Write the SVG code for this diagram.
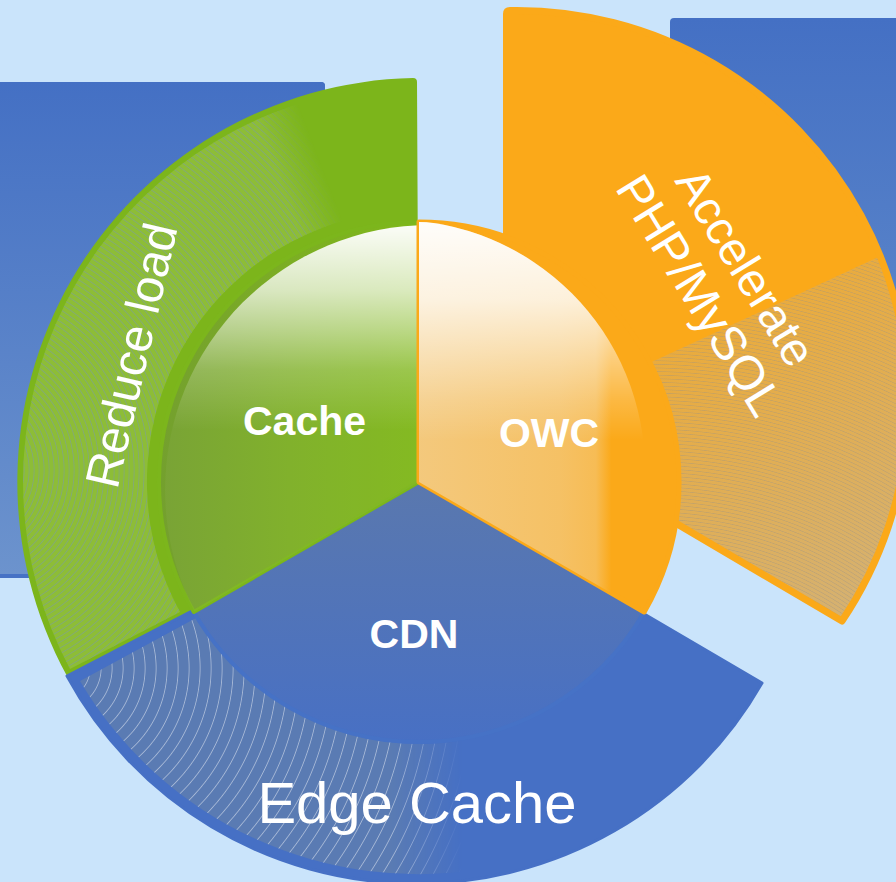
<svg xmlns="http://www.w3.org/2000/svg" width="896" height="882" viewBox="0 0 896 882">
<defs>
<style>
.lbl{font-family:"Liberation Sans",Arial,Helvetica,sans-serif;fill:#fff}
.bold{font-weight:bold;font-size:41px}
</style>
<linearGradient id="rectL" gradientUnits="userSpaceOnUse" x1="0" y1="82" x2="0" y2="574"><stop offset="0" stop-color="#4470c4"/><stop offset="1" stop-color="#6c93cd"/></linearGradient>
<linearGradient id="rectR" gradientUnits="userSpaceOnUse" x1="0" y1="18" x2="0" y2="514"><stop offset="0" stop-color="#4470c4"/><stop offset="1" stop-color="#6690cc"/></linearGradient>
<radialGradient id="ringsGreen" gradientUnits="userSpaceOnUse" cx="-40" cy="470" r="5" spreadMethod="repeat"><stop offset="0" stop-color="#7a98ad" stop-opacity="0"/><stop offset="0.65" stop-color="#7a98ad" stop-opacity="0"/><stop offset="0.82" stop-color="#7a98ad" stop-opacity="0.55"/><stop offset="1" stop-color="#7a98ad" stop-opacity="0"/></radialGradient>
<radialGradient id="ringsBlue" gradientUnits="userSpaceOnUse" cx="58" cy="668" r="11" spreadMethod="repeat"><stop offset="0" stop-color="#fff" stop-opacity="0"/><stop offset="0.84" stop-color="#fff" stop-opacity="0"/><stop offset="0.92" stop-color="#fff" stop-opacity="0.45"/><stop offset="1" stop-color="#fff" stop-opacity="0"/></radialGradient>
<radialGradient id="ringsOrange" gradientUnits="userSpaceOnUse" cx="650" cy="900" r="3.6" spreadMethod="repeat"><stop offset="0" stop-color="#8f8f8f" stop-opacity="0"/><stop offset="0.6" stop-color="#8f8f8f" stop-opacity="0"/><stop offset="0.8" stop-color="#8f8f8f" stop-opacity="0.35"/><stop offset="1" stop-color="#8f8f8f" stop-opacity="0"/></radialGradient>
<linearGradient id="fadeGreen" gradientUnits="userSpaceOnUse" x1="278" y1="177" x2="320" y2="161"><stop offset="0" stop-color="#fff"/><stop offset="1" stop-color="#000"/></linearGradient>
<linearGradient id="fadeBlue" gradientUnits="userSpaceOnUse" x1="392" y1="0" x2="462" y2="0"><stop offset="0" stop-color="#fff"/><stop offset="1" stop-color="#000"/></linearGradient>
<mask id="mGreen" maskUnits="userSpaceOnUse" x="0" y="0" width="896" height="882"><rect width="896" height="882" fill="url(#fadeGreen)"/></mask>
<mask id="mBlue" maskUnits="userSpaceOnUse" x="0" y="0" width="896" height="882"><rect width="896" height="882" fill="url(#fadeBlue)"/></mask>
<linearGradient id="orTex" gradientUnits="userSpaceOnUse" x1="700" y1="330" x2="850" y2="600"><stop offset="0" stop-color="#eaab3c"/><stop offset="1" stop-color="#d6b16f"/></linearGradient>
<linearGradient id="cacheBase" gradientUnits="userSpaceOnUse" x1="160" y1="0" x2="419" y2="0"><stop offset="0" stop-color="#74a02e"/><stop offset="0.5" stop-color="#7cae24"/><stop offset="1" stop-color="#7fb81a"/></linearGradient>
<linearGradient id="cacheGloss" gradientUnits="userSpaceOnUse" x1="0" y1="222" x2="0" y2="430"><stop offset="0" stop-color="#fff" stop-opacity="0.98"/><stop offset="0.33" stop-color="#fff" stop-opacity="0.7"/><stop offset="0.52" stop-color="#fff" stop-opacity="0.45"/><stop offset="0.71" stop-color="#fff" stop-opacity="0.19"/><stop offset="1" stop-color="#fff" stop-opacity="0"/></linearGradient>
<linearGradient id="owcH" gradientUnits="userSpaceOnUse" x1="419" y1="0" x2="640" y2="0"><stop offset="0" stop-color="#ece8e0" stop-opacity="0.5"/><stop offset="0.64" stop-color="#ece8e0" stop-opacity="0.38"/><stop offset="0.8" stop-color="#ece8e0" stop-opacity="0.3"/><stop offset="0.87" stop-color="#ece8e0" stop-opacity="0"/></linearGradient>
<linearGradient id="owcV" gradientUnits="userSpaceOnUse" x1="0" y1="220" x2="0" y2="440"><stop offset="0" stop-color="#fff" stop-opacity="0.97"/><stop offset="0.36" stop-color="#fff" stop-opacity="0.77"/><stop offset="0.82" stop-color="#fff" stop-opacity="0.18"/><stop offset="1" stop-color="#fff" stop-opacity="0"/></linearGradient>
<linearGradient id="cdnBase" gradientUnits="userSpaceOnUse" x1="0" y1="482" x2="0" y2="742"><stop offset="0" stop-color="#5a78ae"/><stop offset="1" stop-color="#4870c4"/></linearGradient>
<clipPath id="clipOrange"><path d="M506.5,300 L506.5,14 Q506.5,10.5 510,10.5 A392 392 0 0 1 842,621 L560,455 Z"/></clipPath>
<clipPath id="clipOWC"><path d="M419,482 L419,222 A260 260 0 0 1 644.2,612 Z"/></clipPath>
<clipPath id="clipOWCgloss"><circle cx="395" cy="470" r="250"/></clipPath>
<clipPath id="clipCache"><path d="M419,482 L419,222 A260 260 0 0 0 193.8,612 Z"/></clipPath>
<clipPath id="clipCacheGloss"><circle cx="430" cy="490" r="265"/></clipPath>
</defs>

<rect id="bg" width="896" height="882" fill="#cae4fb"/>

<g id="panels">
<rect x="-10" y="82" width="335" height="496" rx="4" fill="#4672c5"/>
<rect x="-10" y="82" width="335" height="492" rx="4" fill="url(#rectL)"/>
<rect x="670" y="18" width="240" height="496" rx="4" fill="url(#rectR)"/>
</g>

<g id="node-accelerate">
<path d="M506.5,300 L506.5,14 Q506.5,10.5 510,10.5 A392 392 0 0 1 842,621 L560,455 Z" fill="#fba919"/>
<g clip-path="url(#clipOrange)">
<polygon points="630,372 900,247 900,700 630,700" fill="url(#orTex)"/>
<polygon points="630,372 900,247 900,700 630,700" fill="url(#ringsOrange)"/>
</g>
<path d="M506.5,300 L506.5,14 Q506.5,10.5 510,10.5 A392 392 0 0 1 842,621 L560,455 Z" fill="none" stroke="#fba919" stroke-width="7" stroke-linejoin="round"/>
<g transform="translate(723,281) rotate(58.5)">
<text class="lbl" x="0" y="-10.5" font-size="47" text-anchor="middle">Accelerate</text>
<text class="lbl" x="0" y="44" font-size="48" text-anchor="middle">PHP/MySQL</text>
</g>
</g>

<g id="node-reduce-load">
<path d="M419,482 L417,82 Q417,78 413,78 A404 404 0 0 0 67,676 L190,612 Z" fill="#7cb51b"/>
<g mask="url(#mGreen)">
<path d="M70,669 A397 397 0 0 1 316.3,98.5 L348.6,219.3 A272 272 0 0 0 180,612 Z" fill="#8dbd37"/>
<path d="M70,669 A397 397 0 0 1 316.3,98.5 L348.6,219.3 A272 272 0 0 0 180,612 Z" fill="url(#ringsGreen)"/>
</g>
<text class="lbl" transform="translate(147.5,359) rotate(-77)" font-size="48" text-anchor="middle">Reduce load</text>
</g>

<g id="node-edge-cache">
<path d="M419,482 L762,683 A398 398 0 0 1 67,676 L190,612 Z" fill="#4670c5" stroke="#4670c5" stroke-width="3" stroke-linejoin="round"/>
<g mask="url(#mBlue)">
<path d="M80,681 A392 392 0 0 0 487,868 L464,740 A262 262 0 0 1 196,618 Z" fill="#5a7bb3"/>
<path d="M80,681 A392 392 0 0 0 487,868 L464,740 A262 262 0 0 1 196,618 Z" fill="url(#ringsBlue)"/>
</g>
<text class="lbl" x="417" y="823" font-size="58" text-anchor="middle">Edge Cache</text>
</g>

<g id="node-cdn">
<path d="M419,482 L644.2,612 A260 260 0 0 1 193.8,612 Z" fill="url(#cdnBase)" stroke="#4672c6" stroke-width="4" stroke-linejoin="round"/>
<text class="lbl bold" x="414" y="648" text-anchor="middle">CDN</text>
</g>

<g id="node-cache">
<path d="M419,482 L419,222 A260 260 0 0 0 193.8,612 Z" fill="url(#cacheBase)" stroke="#7cb61c" stroke-width="4" stroke-linejoin="round"/>
<g clip-path="url(#clipCache)">
<g clip-path="url(#clipCacheGloss)">
<rect x="150" y="215" width="275" height="400" fill="#fff" opacity="0.04"/>
<rect x="150" y="215" width="275" height="230" fill="url(#cacheGloss)"/>
</g>
</g>
<text class="lbl bold" x="304.5" y="435" text-anchor="middle">Cache</text>
</g>

<g id="node-owc">
<path d="M419,482 L419,222 A260 260 0 0 1 644.2,612 Z" fill="#fba919" stroke="#fba919" stroke-width="5" stroke-linejoin="round"/>
<g clip-path="url(#clipOWC)">
<g clip-path="url(#clipOWCgloss)">
<rect x="415" y="215" width="235" height="400" fill="url(#owcH)"/>
<rect x="415" y="215" width="235" height="230" fill="url(#owcV)"/>
</g>
</g>
<text class="lbl bold" x="549" y="447" text-anchor="middle">OWC</text>
</g>

<g id="connectors"/>
</svg>
